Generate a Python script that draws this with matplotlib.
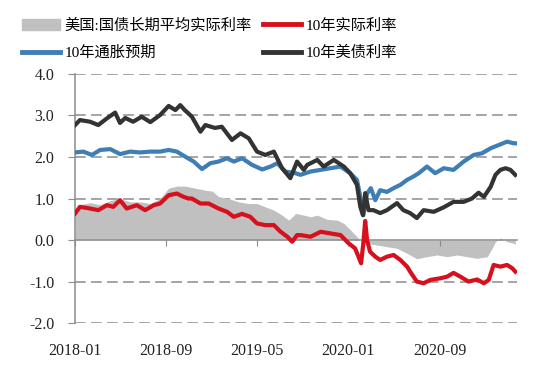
import matplotlib
matplotlib.use("Agg")
import matplotlib.pyplot as plt
import matplotlib.dates as mdates
from matplotlib.patches import Patch
from matplotlib.lines import Line2D
import pandas as pd

# 美国:国债长期平均实际利率 (gray area)
gray_dates = ["2018-01-01", "2018-01-14", "2018-02-10", "2018-03-09", "2018-04-05", "2018-05-01",
              "2018-05-28", "2018-06-24", "2018-07-21", "2018-08-16", "2018-09-08", "2018-09-30",
              "2018-10-22", "2018-11-18", "2018-12-15", "2019-01-02", "2019-01-19", "2019-02-15",
              "2019-03-14", "2019-04-10", "2019-05-02", "2019-05-24", "2019-06-16", "2019-07-08",
              "2019-07-26", "2019-08-13", "2019-09-04", "2019-09-22", "2019-10-10", "2019-11-05",
              "2019-12-02", "2019-12-20", "2020-01-06", "2020-01-24", "2020-02-02", "2020-02-10",
              "2020-02-20", "2020-03-17", "2020-04-13", "2020-05-10", "2020-06-06", "2020-07-02",
              "2020-07-29", "2020-08-25", "2020-09-21", "2020-10-17", "2020-11-13", "2020-12-10",
              "2021-01-06", "2021-01-19", "2021-01-28", "2021-02-10", "2021-02-28", "2021-03-18",
              "2021-03-22"]
gray_vals = [0.72, 0.85, 0.90, 0.85, 0.95, 1.00,
             0.92, 0.92, 0.88, 1.00, 1.25, 1.30,
             1.30, 1.25, 1.20, 1.18, 1.05, 1.00,
             0.92, 0.88, 0.88, 0.80, 0.72, 0.60,
             0.48, 0.64, 0.60, 0.56, 0.60, 0.50,
             0.48, 0.40, 0.25, 0.08, 0.00, -0.05,
             -0.08, -0.12, -0.16, -0.20, -0.32, -0.45,
             -0.40, -0.36, -0.40, -0.36, -0.40, -0.44,
             -0.40, -0.20, -0.04, 0.05, -0.04, -0.08,
             -0.10]

# 10年实际利率 (red)
real_dates = ["2018-01-01", "2018-01-14", "2018-02-10", "2018-03-04", "2018-03-27", "2018-04-13",
              "2018-05-01", "2018-05-19", "2018-06-15", "2018-07-07", "2018-07-30", "2018-08-16",
              "2018-09-08", "2018-09-30", "2018-10-18", "2018-10-31", "2018-11-09", "2018-12-02",
              "2018-12-24", "2019-01-19", "2019-02-11", "2019-03-01", "2019-03-23", "2019-04-14",
              "2019-05-02", "2019-05-24", "2019-06-16", "2019-07-04", "2019-07-22", "2019-08-04",
              "2019-08-17", "2019-08-26", "2019-09-22", "2019-10-19", "2019-11-14", "2019-12-11",
              "2020-01-02", "2020-01-19", "2020-01-28", "2020-02-04", "2020-02-10", "2020-02-15",
              "2020-02-20", "2020-02-28", "2020-03-13", "2020-03-26", "2020-04-13", "2020-05-01",
              "2020-05-19", "2020-06-06", "2020-06-14", "2020-07-02", "2020-07-20", "2020-08-07",
              "2020-09-03", "2020-09-21", "2020-10-08", "2020-10-26", "2020-11-17", "2020-12-10",
              "2020-12-28", "2021-01-10", "2021-01-23", "2021-02-10", "2021-02-28", "2021-03-14",
              "2021-03-22"]
real_vals = [0.64, 0.80, 0.76, 0.72, 0.84, 0.80,
             0.96, 0.76, 0.84, 0.72, 0.84, 0.88,
             1.08, 1.12, 1.04, 1.00, 1.00, 0.88,
             0.88, 0.76, 0.68, 0.56, 0.63, 0.56,
             0.40, 0.36, 0.36, 0.20, 0.08, -0.04,
             0.12, 0.12, 0.08, 0.20, 0.16, 0.12,
             -0.08, -0.20, -0.40, -0.56, -0.08, 0.46,
             0.00, -0.28, -0.40, -0.48, -0.40, -0.36,
             -0.48, -0.64, -0.76, -1.00, -1.04, -0.96,
             -0.92, -0.88, -0.79, -0.88, -1.00, -0.95,
             -1.04, -0.96, -0.60, -0.64, -0.60, -0.68,
             -0.76]

# 10年通胀预期 (blue)
bei_dates = ["2018-01-01", "2018-01-23", "2018-02-15", "2018-03-09", "2018-04-05", "2018-05-01",
             "2018-05-28", "2018-06-24", "2018-07-21", "2018-08-16", "2018-09-08", "2018-09-30",
             "2018-10-22", "2018-11-14", "2018-12-06", "2018-12-28", "2019-01-19", "2019-02-11",
             "2019-03-01", "2019-03-23", "2019-04-19", "2019-05-16", "2019-06-07", "2019-06-25",
             "2019-07-17", "2019-08-13", "2019-08-26", "2019-09-22", "2019-10-19", "2019-11-14",
             "2019-12-11", "2020-01-06", "2020-01-24", "2020-02-02", "2020-02-10", "2020-02-20",
             "2020-03-01", "2020-03-13", "2020-03-26", "2020-04-13", "2020-05-01", "2020-05-19",
             "2020-06-06", "2020-06-23", "2020-07-07", "2020-07-29", "2020-08-20", "2020-09-12",
             "2020-10-08", "2020-11-04", "2020-12-01", "2020-12-23", "2021-01-15", "2021-02-06",
             "2021-02-28", "2021-03-18", "2021-03-22"]
bei_vals = [2.11, 2.13, 2.05, 2.17, 2.19, 2.07,
            2.13, 2.11, 2.13, 2.13, 2.17, 2.13,
            2.01, 1.89, 1.71, 1.85, 1.89, 1.97,
            1.89, 1.97, 1.81, 1.70, 1.77, 1.85,
            1.65, 1.61, 1.57, 1.65, 1.69, 1.73,
            1.77, 1.61, 1.45, 1.04, 0.60, 1.12,
            1.25, 0.96, 1.20, 1.16, 1.25, 1.33,
            1.45, 1.53, 1.61, 1.77, 1.61, 1.73,
            1.69, 1.89, 2.05, 2.09, 2.21, 2.29,
            2.37, 2.33, 2.33]

# 10年美债利率 (black)
ust_dates = ["2018-01-01", "2018-01-14", "2018-02-10", "2018-03-04", "2018-03-27", "2018-04-18",
             "2018-05-01", "2018-05-15", "2018-06-05", "2018-06-28", "2018-07-21", "2018-08-16",
             "2018-09-08", "2018-09-26", "2018-10-09", "2018-10-22", "2018-10-31", "2018-11-09",
             "2018-12-02", "2018-12-15", "2019-01-10", "2019-01-28", "2019-02-24", "2019-03-19",
             "2019-04-10", "2019-05-02", "2019-05-24", "2019-06-16", "2019-07-08", "2019-07-30",
             "2019-08-17", "2019-09-04", "2019-09-13", "2019-10-10", "2019-10-27", "2019-11-23",
             "2019-12-20", "2020-01-06", "2020-01-24", "2020-02-02", "2020-02-09", "2020-02-15",
             "2020-02-24", "2020-03-08", "2020-03-26", "2020-04-13", "2020-05-10", "2020-05-27",
             "2020-06-14", "2020-07-02", "2020-07-20", "2020-08-16", "2020-09-12", "2020-10-08",
             "2020-11-04", "2020-11-26", "2020-12-14", "2020-12-28", "2021-01-15", "2021-01-28",
             "2021-02-10", "2021-02-24", "2021-03-09", "2021-03-22"]
ust_vals = [2.77, 2.89, 2.85, 2.77, 2.93, 3.07,
            2.82, 2.94, 2.85, 2.97, 2.84, 3.01,
            3.23, 3.13, 3.25, 3.12, 3.05, 2.97,
            2.61, 2.77, 2.70, 2.73, 2.41, 2.57,
            2.45, 2.13, 2.05, 2.13, 1.73, 1.49,
            1.89, 1.69, 1.81, 1.93, 1.77, 1.93,
            1.77, 1.61, 1.33, 0.80, 0.60, 1.13,
            0.72, 0.72, 0.65, 0.72, 0.89, 0.72,
            0.65, 0.53, 0.72, 0.68, 0.79, 0.92,
            0.92, 1.00, 1.14, 1.04, 1.28, 1.57,
            1.69, 1.73, 1.69, 1.57]

tick_labels = ["2018-01", "2018-09", "2019-05", "2020-01", "2020-09"]
y_ticks = [-2.0, -1.0, 0.0, 1.0, 2.0, 3.0, 4.0]

def num(d):
    return mdates.date2num(pd.to_datetime(d))

serif_cjk = ["Liberation Serif", "Noto Sans CJK SC"]
grid_c = "#8c8c8c"

fig = plt.figure(figsize=(5.44, 3.68), dpi=100)
ax = fig.add_axes([0.138, 0.122, 0.812, 0.677])

ax.fill_between(num(gray_dates), 0, gray_vals, color="#c0c0c0", lw=0, zorder=1)
ax.plot(num(bei_dates), bei_vals, color="#3f7db5", lw=3.0, zorder=3)
ax.plot(num(ust_dates), ust_vals, color="#333333", lw=3.0, zorder=4)
ax.plot(num(real_dates), real_vals, color="#d7101e", lw=3.0, zorder=5)

ax.set_xlim(num("2018-01-01"), num("2021-03-26"))
ax.set_ylim(-2.0, 4.0)
ax.set_yticks(y_ticks)
ax.set_yticklabels(["%.1f" % v for v in y_ticks], family=serif_cjk, fontsize=11.5, color="#222222")
for v in y_ticks:
    if v != 0:
        ax.axhline(v, color=grid_c, lw=1.1, ls=(0, (7, 3.5)), zorder=0)

for s in ["top", "right"]:
    ax.spines[s].set_visible(False)
ax.spines["left"].set_color(grid_c)
ax.spines["left"].set_linewidth(1.1)
ax.spines["bottom"].set_position(("data", 0))
ax.spines["bottom"].set_color(grid_c)
ax.spines["bottom"].set_linewidth(1.1)
ax.tick_params(axis="y", length=5, color=grid_c, pad=10)
ax.set_xticks(num([t + "-01" for t in tick_labels]))
ax.tick_params(axis="x", length=4, color=grid_c, labelbottom=False)

sec = ax.secondary_xaxis(0)
sec.set_xticks(num([t + "-01" for t in tick_labels]))
sec.set_xticklabels(tick_labels, family=serif_cjk, fontsize=11.5, color="#222222")
sec.tick_params(length=0, pad=14)
sec.spines["bottom"].set_visible(False)

handles = [Patch(color="#c0c0c0"),
           Line2D([], [], color="#3f7db5", lw=3.5),
           Line2D([], [], color="#d7101e", lw=3.5),
           Line2D([], [], color="#333333", lw=3.5)]
labels = ["美国:国债长期平均实际利率", "10年通胀预期", "10年实际利率", "10年美债利率"]
fig.legend(handles, labels, loc="upper left", bbox_to_anchor=(0.04, 0.95), ncol=2,
           frameon=False, borderpad=0, borderaxespad=0, handlelength=2.5,
           handletextpad=0.3, columnspacing=0.75, labelspacing=0.85,
           prop={"family": serif_cjk, "size": 11})

fig.savefig("out.png", dpi=100)
